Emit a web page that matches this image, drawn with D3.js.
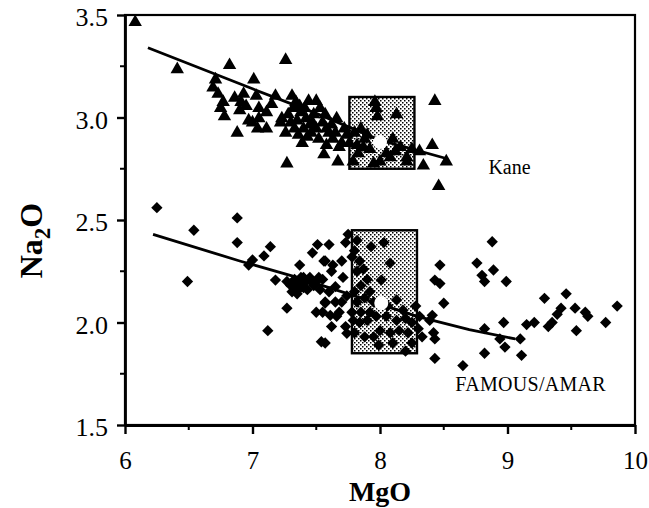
<!DOCTYPE html>
<html>
<head>
<meta charset="utf-8">
<script src="https://cdn.jsdelivr.net/npm/d3@7"></script>
<style>
  html, body { margin: 0; padding: 0; background: #fff; }
  svg { display: block; }
  text { font-family: "Liberation Serif", "Times New Roman", serif; fill: #000; }
</style>
</head>
<body>
<svg id="chart" width="649" height="508"></svg>
<script>
// Kane samples: [MgO, Na2O] wt%
const kanePoints = [
  [6.08,3.47],[6.41,3.24],[6.82,3.26],[7.26,3.285],
  [6.71,3.19],[6.69,3.15],[6.77,3.08],[6.78,3.01],[6.73,3.12],[6.75,3.05],
  [7.01,3.19],[6.91,3.08],[6.90,3.04],[6.95,3.06],
  [7.03,3.11],[7.05,3.05],[7.11,3.03],[7.18,3.11],[7.31,3.11],
  [6.88,2.93],[7.00,2.98],[7.04,2.95],[7.11,2.95],[7.22,2.98],[7.23,3.00],
  [7.27,2.78],[7.44,3.085],[7.50,3.085],[7.57,3.02],[7.66,3.00],
  [7.32,3.05],[7.35,2.99],[7.38,3.03],[7.40,2.95],[7.42,3.00],[7.45,2.97],
  [7.36,2.92],[7.48,3.02],[7.50,2.95],[7.52,2.90],[7.60,2.93],[7.63,2.90],
  [7.70,2.88],[7.55,2.98],[7.34,3.08],[7.46,2.93],[7.30,2.98],
  [7.58,2.87],[7.56,2.825],[7.67,2.79],[7.74,2.92],
  [7.96,3.08],[7.97,3.05],[7.98,3.01],[8.13,3.02],
  [7.82,2.87],[7.87,2.86],[8.05,2.83],[8.16,2.86],[8.21,2.81],
  [8.43,3.085],[8.41,2.87],[8.31,2.84],[8.34,2.77],[8.52,2.79],[8.46,2.67],
  [7.79,2.79],[7.95,2.78],[8.08,2.81],[8.21,2.79],
  [7.90,2.92],[8.10,2.90],[7.85,2.95],
  [7.28,3.02],[7.33,2.95],[7.37,3.06],[7.41,3.05],[7.43,2.91],[7.47,2.98],
  [7.53,3.05],[7.58,2.95],[7.62,2.97],[7.65,2.93],[7.68,2.86],[7.72,2.95],
  [7.76,2.88],[7.80,2.93],[7.83,2.83],[7.88,2.90],[7.92,2.85],[8.00,2.79],
  [8.12,2.84],[8.25,2.85],[7.26,2.93],[7.39,2.88],[7.05,3.00],[6.97,2.99],
  [6.86,3.10],[6.93,3.12],[7.15,3.07]
];

// FAMOUS/AMAR samples: [MgO, Na2O] wt%
const famousPoints = [
  [6.25,2.56],[6.88,2.51],[6.54,2.45],[6.88,2.39],[7.14,2.37],[7.09,2.325],
  [7.00,2.305],[6.97,2.28],[6.49,2.20],[7.18,2.207],[7.37,2.28],[7.51,2.38],
  [7.47,2.34],[7.56,2.30],
  [7.27,2.20],[7.30,2.18],[7.33,2.21],[7.35,2.19],[7.38,2.22],[7.40,2.17],
  [7.42,2.20],[7.45,2.22],[7.48,2.18],[7.50,2.20],[7.53,2.16],[7.55,2.21],
  [7.31,2.15],[7.36,2.16],[7.32,2.175],[7.35,2.14],
  [7.27,2.07],[7.50,2.05],[7.57,2.095],[7.12,1.96],[7.54,1.906],[7.57,1.90],
  [7.63,2.28],[7.65,2.175],[7.74,2.13],[7.61,2.035],[7.66,2.03],[7.74,1.947],
  [7.73,2.39],[7.75,2.43],[7.93,2.37],[8.03,2.39],[8.08,2.29],[8.01,2.207],
  [7.57,2.30],[7.71,2.22],[7.62,2.25],[7.60,2.15],[7.65,2.10],[7.68,2.05],
  [7.55,2.05],[7.57,2.10],
  [7.90,2.01],[8.00,1.96],[8.13,2.01],[8.18,2.06],[8.13,2.11],[7.90,2.21],
  [7.87,2.26],[7.84,2.30],[7.73,1.98],[7.79,2.01],
  [7.80,2.15],[7.82,2.10],[7.85,2.05],[7.95,2.10],[7.78,2.05],[7.92,2.15],
  [8.05,2.03],[8.22,1.95],[8.25,2.00],[8.28,2.08],[7.95,1.93],[8.10,1.90],
  [8.47,2.28],[8.43,2.207],[8.47,2.19],[8.50,2.094],[8.31,2.03],[8.39,2.01],
  [8.33,1.93],[8.43,1.92],[8.43,1.825],[8.65,1.79],[8.20,1.86],[7.99,1.89],
  [8.88,2.394],[8.76,2.29],[8.80,2.23],[8.89,2.256],[8.99,2.20],[8.82,2.20],
  [8.41,2.035],[8.42,1.95],[8.82,1.97],[8.82,1.85],[8.97,2.00],[8.98,1.88],
  [9.10,1.92],[9.11,1.84],[9.15,1.99],[9.21,2.00],[8.94,1.92],
  [9.29,2.118],[9.46,2.14],[9.42,2.07],[9.39,2.04],[9.35,2.00],[9.32,1.98],
  [9.53,2.07],[9.61,2.05],[9.63,2.03],[9.54,1.96],[9.77,2.00],[9.86,2.08],
  [7.40,2.22],[7.43,2.16],[7.46,2.20],[7.38,2.18],[7.52,2.22],[7.80,2.35],
  [7.82,2.25],[7.85,2.18],[7.88,2.12],[7.84,2.00],[7.80,1.95],[7.88,1.93],
  [7.92,2.05],[7.97,2.03],[8.06,2.08],[8.15,1.96],[8.08,1.95],[8.20,2.02],
  [7.82,2.40],[7.78,2.32],[8.25,1.90],[8.30,1.97],[7.62,1.98],[7.70,2.10],
  [7.70,2.30],[7.60,2.38]
];

// Trend lines through each suite
const kaneTrend = [[6.18,3.34],[7.0,3.14],[7.5,3.02],[8.0,2.89],[8.52,2.80]];
const famousTrend = [[6.22,2.43],[6.90,2.30],[7.35,2.22],[7.80,2.13],[8.29,2.03],[8.70,1.965],[9.06,1.92]];

// Range boxes [MgO min, MgO max, Na2O min, Na2O max] and mean values
const kaneBox = [7.76, 8.27, 2.75, 3.10];
const famousBox = [7.78, 8.29, 1.85, 2.45];
const kaneMean = [8.00, 2.88];
const famousMean = [8.01, 2.095];

// Axis ticks
const xTicks = [6, 7, 8, 9, 10];
const xMinorTicks = [6.5, 7.5, 8.5, 9.5];
const yTicks = [1.5, 2.0, 2.5, 3.0, 3.5];
const yMinorTicks = [1.75, 2.25, 2.75, 3.25];

const svg = d3.select("#chart");
const plotLeft = 125, plotTop = 15, plotRight = 635, plotBottom = 425;

const x = d3.scaleLinear().domain([6, 10]).range([plotLeft, plotRight]);
const y = d3.scaleLinear().domain([1.5, 3.5]).range([plotBottom, plotTop]);

// stipple fill for the range boxes
const defs = svg.append("defs");
const pat = defs.append("pattern")
  .attr("id", "stipple").attr("patternUnits", "userSpaceOnUse")
  .attr("width", 4).attr("height", 4);
pat.append("rect").attr("width", 4).attr("height", 4).attr("fill", "#fff");
pat.append("rect").attr("x", 0).attr("y", 0).attr("width", 1.5).attr("height", 1.5).attr("fill", "#000");
pat.append("rect").attr("x", 2).attr("y", 2).attr("width", 1.5).attr("height", 1.5).attr("fill", "#000");

// range boxes
[kaneBox, famousBox].forEach(b => {
  svg.append("rect")
    .attr("x", x(b[0])).attr("y", y(b[3]))
    .attr("width", x(b[1]) - x(b[0])).attr("height", y(b[2]) - y(b[3]))
    .attr("fill", "url(#stipple)").attr("stroke", "#000").attr("stroke-width", 2.4);
});

// data points
const tri = d3.symbol().type(d3.symbolTriangle).size(78);
svg.append("g").selectAll("path").data(kanePoints).join("path")
  .attr("d", tri)
  .attr("transform", d => `translate(${x(d[0])},${y(d[1]) + 1})`)
  .attr("fill", "#000");

const dia = d3.symbol().type(d3.symbolSquare).size(64);
svg.append("g").selectAll("path").data(famousPoints).join("path")
  .attr("d", dia)
  .attr("transform", d => `translate(${x(d[0])},${y(d[1])}) rotate(45)`)
  .attr("fill", "#000");

// trend lines
const line = d3.line().x(d => x(d[0])).y(d => y(d[1]));
[kaneTrend, famousTrend].forEach(t => {
  svg.append("path").datum(t).attr("d", line)
    .attr("fill", "none").attr("stroke", "#000").attr("stroke-width", 2.8);
});

// mean values
[kaneMean, famousMean].forEach(m => {
  svg.append("circle").attr("cx", x(m[0])).attr("cy", y(m[1])).attr("r", 7)
    .attr("fill", "#fff");
});

// frame
svg.append("rect").attr("x", plotLeft).attr("y", plotTop)
  .attr("width", plotRight - plotLeft).attr("height", plotBottom - plotTop)
  .attr("fill", "none").attr("stroke", "#000").attr("stroke-width", 2.2);

// axes
const xAxis = d3.axisBottom(x).tickValues(xTicks).tickFormat(d3.format("d"))
  .tickSizeInner(9).tickSizeOuter(0).tickPadding(17);
const gx = svg.append("g").attr("transform", `translate(0,${plotBottom})`).call(xAxis);
gx.selectAll(".tick line").attr("stroke-width", 2.4);
gx.select(".domain").attr("stroke-width", 2.8);
gx.selectAll("text").attr("font-size", 25).attr("font-family", "Liberation Serif");
gx.selectAll(".minor").data(xMinorTicks).join("line").attr("class", "minor")
  .attr("x1", d => x(d)).attr("x2", d => x(d)).attr("y1", 0).attr("y2", 5)
  .attr("stroke", "#000").attr("stroke-width", 2);

const yAxis = d3.axisLeft(y).tickValues(yTicks).tickFormat(d3.format(".1f"))
  .tickSizeInner(8).tickSizeOuter(0).tickPadding(9);
const gy = svg.append("g").attr("transform", `translate(${plotLeft},0)`).call(yAxis);
gy.selectAll(".tick line").attr("stroke-width", 2.4);
gy.select(".domain").attr("stroke-width", 2.8);
gy.selectAll("text").attr("font-size", 26).attr("font-family", "Liberation Serif").attr("dy", "0.42em");
gy.selectAll(".minor").data(yMinorTicks).join("line").attr("class", "minor")
  .attr("y1", d => y(d)).attr("y2", d => y(d)).attr("x1", 0).attr("x2", -5)
  .attr("stroke", "#000").attr("stroke-width", 2);

// series labels
svg.append("text").attr("x", x(8.85)).attr("y", y(2.725)).attr("font-size", 20).text("Kane");
svg.append("text").attr("x", x(8.59)).attr("y", y(1.665)).attr("font-size", 20)
  .attr("letter-spacing", 0.3).text("FAMOUS/AMAR");

// axis titles
svg.append("text").attr("x", x(8)).attr("y", 501).attr("text-anchor", "middle")
  .attr("font-size", 28).attr("font-weight", "bold").text("MgO");

const yt = svg.append("text").attr("transform", `translate(42,${y(2.4)}) rotate(-90)`)
  .attr("text-anchor", "middle").attr("font-size", 32).attr("font-weight", "bold");
yt.append("tspan").text("Na");
yt.append("tspan").attr("font-size", 23).attr("dy", 8).text("2");
yt.append("tspan").attr("dy", -8).text("O");
</script>
</body>
</html>
